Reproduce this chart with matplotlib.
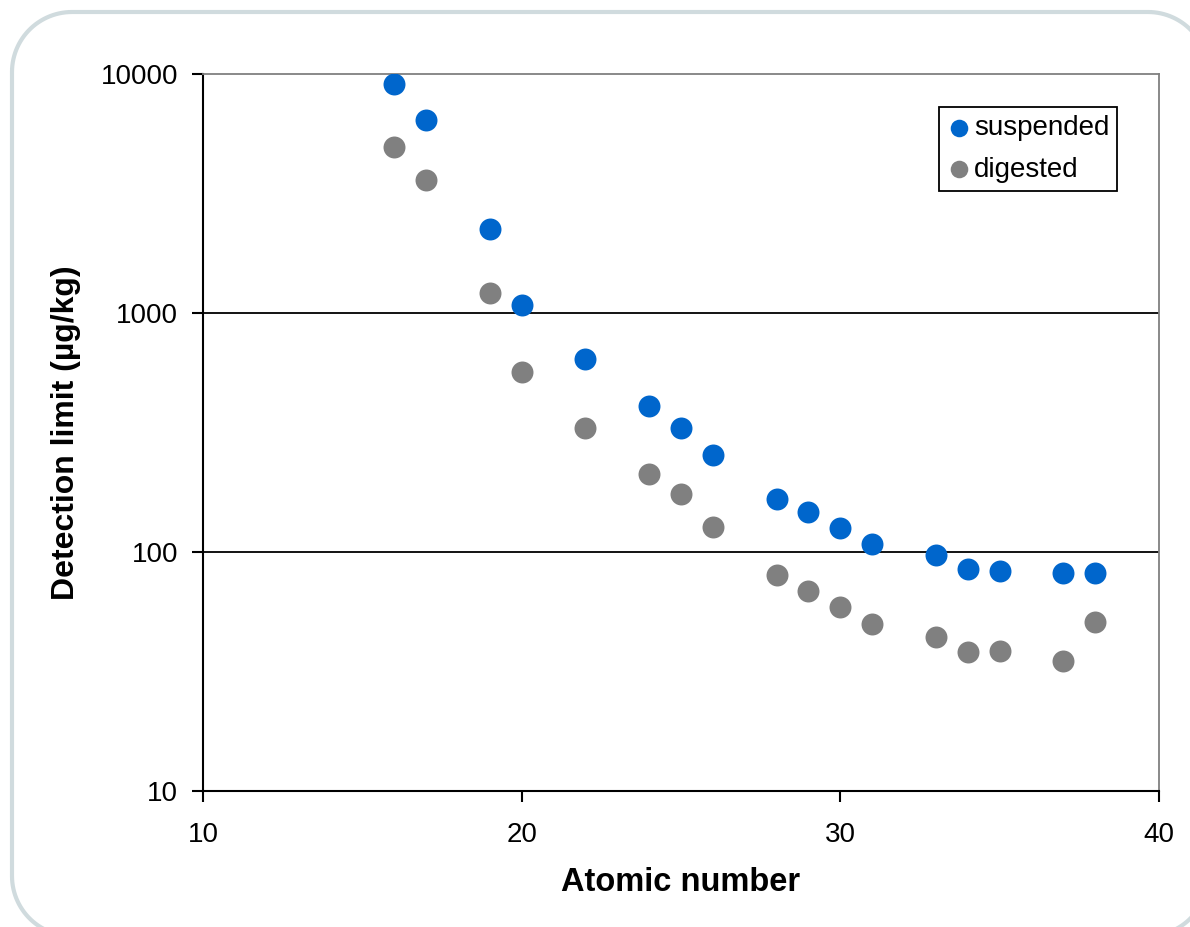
import numpy as np
import matplotlib.pyplot as plt
from matplotlib.lines import Line2D
from matplotlib.transforms import IdentityTransform

plt.rcParams['font.family'] = ['Liberation Sans', 'DejaVu Sans']

# Datos
z = [16, 17, 19, 20, 22, 24, 25, 26, 28, 29, 30, 31, 33, 34, 35, 37, 38]
suspended = [9080, 6430, 2245, 1080, 643, 409, 329, 254, 166, 147, 126, 108,
             97, 85, 83, 82, 82]
digested = [4950, 3600, 1213, 568, 329, 213, 175, 127, 80, 69, 59, 50,
            44, 38, 38.5, 35, 51]
xticks = [10, 20, 30, 40]
yticks = [10, 100, 1000, 10000]

W, H = 1190, 927
fig = plt.figure(figsize=(W/100, H/100), dpi=100)

# Marco redondeado de fondo (en píxeles, origen abajo)
x0, x1, y0, y1, r = 12, 1208, -9, H - 12, 60
fx, fy = [], []
for cx, cy, a0 in [(x1 - r, y1 - r, 0), (x0 + r, y1 - r, 90),
                   (x0 + r, y0 + r, 180), (x1 - r, y0 + r, 270)]:
    a = np.radians(np.linspace(a0, a0 + 90, 30))
    fx.extend(cx + r*np.cos(a))
    fy.extend(cy + r*np.sin(a))
fx.append(fx[0]); fy.append(fy[0])
fig.add_artist(Line2D(fx, fy, transform=IdentityTransform(),
                      color='#d0dbde', linewidth=3))

ax = fig.add_axes([203/W, 1-791/H, (1159-203)/W, (791-74)/H])
ax.set_yscale('log')
ax.set_xlim(10, 40)
ax.set_ylim(10, 10000)

ax.scatter(z, suspended, s=250, color='#0066cc', label='suspended', zorder=3, linewidths=0)
ax.scatter(z, digested, s=250, color='#808080', label='digested', zorder=3, linewidths=0)

ax.set_xticks(xticks)
ax.set_xticklabels([str(v) for v in xticks])
ax.set_yticks(yticks)
ax.set_yticklabels([str(v) for v in yticks])
ax.yaxis.set_minor_locator(plt.NullLocator())
ax.tick_params(axis='both', direction='out', length=8, width=1.5, labelsize=20)
ax.tick_params(axis='y', pad=10)
ax.tick_params(axis='x', pad=14)

for v in [100, 1000]:
    ax.axhline(v, color='black', linewidth=1.3, zorder=1)

ax.spines['left'].set_linewidth(1.5)
ax.spines['bottom'].set_linewidth(1.5)
ax.spines['top'].set_color('#808080')
ax.spines['right'].set_color('#808080')
ax.spines['top'].set_linewidth(1.3)
ax.spines['right'].set_linewidth(1.3)

ax.set_xlabel('Atomic number', fontsize=23.5, fontweight='bold', labelpad=14)
ax.set_ylabel('Detection limit (µg/kg)', fontsize=23, fontweight='bold', labelpad=14)

leg = ax.legend(loc='upper right', bbox_to_anchor=(0.9565, 0.954), fontsize=20,
                frameon=True, fancybox=False, edgecolor='black', framealpha=1,
                handletextpad=0.1, borderpad=0.3, labelspacing=0.55,
                markerscale=0.8, handlelength=0.85, borderaxespad=0)
leg.get_frame().set_linewidth(1.3)

plt.savefig('out.png', dpi=100)
